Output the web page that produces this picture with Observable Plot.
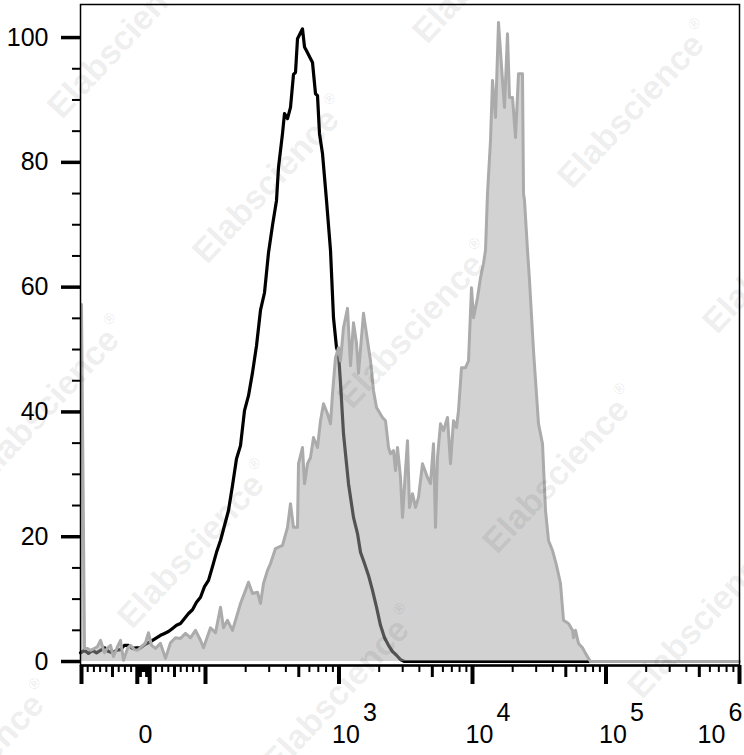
<!DOCTYPE html>
<html><head><meta charset="utf-8">
<script src="https://cdn.jsdelivr.net/npm/d3@7"></script>
<script src="https://cdn.jsdelivr.net/npm/@observablehq/plot@0.6"></script>
<style>
body{margin:0;background:#fff;}
#wrap{position:relative;width:744px;height:755px;overflow:hidden;background:#fff;}
#wm{position:absolute;left:0;top:0;pointer-events:none;}
</style></head><body><div id="wrap"></div>
<script>
// Histogram of the control (black line): display channel vs. % of max
const blackChannel = [0,4,8,12,16,20,24,28,32,36,40,44,48,52,56,60,64,68,72,76,80,84,88,92,96,100,104,108,112,116,120,124,128,132,136,140,144,148,152,156,160,164,168,172,176,180,184,188,192,196,198,200,202,204,207,210,213,215,217,222,224,226,232,235,237,239,242,246,248,250,253,256,258,260,263,268,273,277,280,284,288,292,296,300,304,308,312,316,320,324,508];
const blackCount = [1.4,1.8,1.3,1.8,1.4,1.8,2.2,1.6,1.4,1.8,1.9,2.6,2.6,2.1,2.2,2.2,2.7,3.0,3.4,3.8,4.2,4.5,4.8,5.3,5.8,6.1,6.9,7.7,8.3,9.5,10.3,12.0,13.0,15.2,17.5,19.4,21.8,24.2,28.2,32.5,34.6,40.2,42.6,46.3,50.6,56.3,59.1,65.5,69.9,73.9,79.2,81.9,84.6,87.8,87.0,88.8,94.1,94.4,99.8,101.4,98.5,97.9,96.0,91.0,90.7,84.6,81.4,73.9,69.9,65.9,55.1,50.3,49.4,44.6,36.5,28.5,23.1,20.5,17.5,15.7,13.8,11.4,8.7,5.8,3.8,2.6,1.6,1.0,0.3,0,0];

// Histogram of the stained sample (grey filled)
const grayChannel = [1,4,7,10,14,17,20,24,27,30,33,37,40,43,47,50,54,57,61,65,68,71,75,80,85,90,95,100,105,110,115,120,123,130,135,140,143,147,152,155,160,165,168,172,177,180,183,187,190,195,202,207,210,213,217,218,222,224,227,230,233,237,240,243,247,250,252,255,258,260,263,267,270,273,276,278,283,287,290,293,296,302,305,308,310,313,315,317,320,322,325,327,329,332,335,338,342,347,350,353,355,357,360,363,367,370,373,376,378,381,385,388,391,393,397,400,403,405,407,410,412,415,418,422,424,427,429,432,435,438,442,443,444,447,449,453,458,462,465,468,472,476,480,483,488,492,493,495,498,502,505,508,510,659];
const grayCount = [57.2,2.1,2.1,1.8,2.1,2.4,3.4,1.4,2.2,2.6,0.8,2.4,3.4,0.2,2.1,2.6,1.9,1.8,2.4,3.0,4.6,2.6,2.1,2.9,0.5,3.0,3.8,3.7,4.5,3.8,5.0,3.4,2.2,5.4,4.6,8.7,5.4,6.6,5.0,6.6,9.3,11.4,12.7,10.9,11.1,9.3,12.5,14.6,15.7,18.1,18.6,21.5,25.3,21.5,21.5,31.7,34.3,28.5,31.7,32.7,35.9,34.3,38.6,41.3,39.7,38.1,42.9,48.7,50.3,48.2,53.5,56.6,47.4,54.3,51.0,46.2,55.8,51.4,48.2,43.4,40.7,39.1,38.6,34.3,33.3,33.8,30.6,34.3,29.5,23.1,30.6,35.4,24.7,26.9,24.7,26.3,31.7,29.5,28.5,34.9,21.5,32.7,38.1,37.0,39.1,31.7,38.6,37.5,40.2,47.1,47.1,48.2,59.9,55.1,58.3,61.5,63.8,65.9,75.0,83.5,93.1,87.2,102.4,93.1,88.8,100.6,90.4,90.4,84.0,94.2,94.2,75.0,73.9,65.9,61.1,49.8,38.1,34.9,24.2,19.4,17.8,15.4,12.5,6.6,6.1,5.0,3.8,5.0,2.9,2.2,1.3,0.5,0,0];

// Axis tick values
const yMajorTicks = [0, 20, 40, 60, 80, 100];
const yMinorTicks = [5,10,15,25,30,35,45,50,55,65,70,75,85,90,95];
const xMajorTicks = [-100, -10, 10, 100, 1e3, 1e4, 1e5, 1e6];
const xMidTicks = [-50, -5, 5, 50, 500, 5e3, 5e4, 5e5];
const xLabelValues = [0, 1e3, 1e4, 1e5, 1e6];
const xLabelBase = ["0", "10", "10", "10", "10"];
const xLabelExp = ["", "3", "4", "5", "6"];

// biexponential-like display transform: raw value -> display channel
function chan(v) {
  const a = Math.abs(v), s = Math.sign(v);
  const u = a <= 100 ? a * 0.62 : 62 + 133.5 * Math.log10(a / 100);
  return 63 + s * u;
}
const xMinorTicks = [0];
for (const d of [1, 10]) for (let k = 1; k <= 9; k++) if (k !== 5) { xMinorTicks.push(k * d, -k * d); }
for (const d of [100, 1e3, 1e4, 1e5]) for (let k = 2; k <= 9; k++) if (k !== 5) xMinorTicks.push(k * d);

const black = blackChannel.map((c, i) => ({ch: c, n: blackCount[i]}));
const gray = grayChannel.map((c, i) => ({ch: c, n: grayCount[i]}));
const labels = xLabelValues.map((v, i) => ({v, base: xLabelBase[i], exp: xLabelExp[i]}));
const labelX = d => Math.min(chan(d.v) + (d.v === 0 ? 2 : 7), 631);

const yMin = -0.64, yMax = 105.3;
const FONT = "'Liberation Sans', Arial, Helvetica, sans-serif";

const chart = Plot.plot({
  width: 744,
  height: 755,
  marginLeft: 80,
  marginRight: 5,
  marginTop: 4,
  marginBottom: 90,
  style: {fontFamily: FONT, background: "white", color: "black"},
  x: {domain: [0, 659]},
  y: {domain: [yMin, yMax]},
  marks: [
    Plot.line(black, {x: "ch", y: "n", stroke: "#000", strokeWidth: 3.2}),
    Plot.areaY(gray, {x: "ch", y: "n", fill: "#a6a6a6", fillOpacity: 0.5}),
    Plot.line(gray, {x: "ch", y: "n", stroke: "#ababab", strokeWidth: 3}),
    Plot.frame({stroke: "#000", strokeWidth: 1.5}),
    Plot.ruleY([yMin], {stroke: "#000", strokeWidth: 2.5}),
    Plot.axisY(yMajorTicks, {tickSize: 19, strokeWidth: 3.5, tickPadding: 13, fontSize: 25, label: null}),
    Plot.axisY(yMinorTicks, {tickSize: 8, strokeWidth: 2, tickFormat: () => "", label: null}),
    Plot.axisX(xMajorTicks.map(chan), {tickSize: 19, strokeWidth: 4, tickFormat: () => "", label: null}),
    Plot.axisX(xMidTicks.map(chan), {tickSize: 12, strokeWidth: 3, tickFormat: () => "", label: null}),
    Plot.axisX(xMinorTicks.map(chan), {tickSize: 7, strokeWidth: 2, tickFormat: () => "", label: null}),
    Plot.text(labels, {x: labelX, text: "base", frameAnchor: "bottom", dy: 69, fontSize: 25, textAnchor: "middle", lineAnchor: "middle"}),
    Plot.text(labels.filter(d => d.exp), {x: labelX, text: "exp", frameAnchor: "bottom", dx: 17, dy: 47, fontSize: 25, textAnchor: "start", lineAnchor: "middle"})
  ]
});
const wrap = document.getElementById("wrap");
wrap.appendChild(chart);

// watermark overlay
const wm = d3.select(wrap).append("svg").attr("id", "wm").attr("width", 744).attr("height", 755);
const P0 = [270, 180], A = [365, -75], C = [-75, 365];
for (let m = -3; m <= 3; m++) for (let n = -3; n <= 3; n++) for (const h of [0, 0.5]) {
  const x = P0[0] + (m + h) * A[0] + (n + h) * C[0];
  const y = P0[1] + (m + h) * A[1] + (n + h) * C[1];
  if (x < -70 || x > 810 || y < -70 || y > 820) continue;
  const t = wm.append("text")
    .attr("transform", `translate(${x},${y}) rotate(-47)`)
    .attr("text-anchor", "middle")
    .attr("dominant-baseline", "central")
    .attr("font-family", FONT)
    .attr("font-weight", "bold")
    .attr("font-size", 34)
    .attr("fill", "#000")
    .attr("fill-opacity", 0.085)
    .text("Elabscience");
  t.append("tspan").attr("font-size", 15).attr("dy", -13).attr("dx", 3).text("®");
}
</script>
</body></html>
